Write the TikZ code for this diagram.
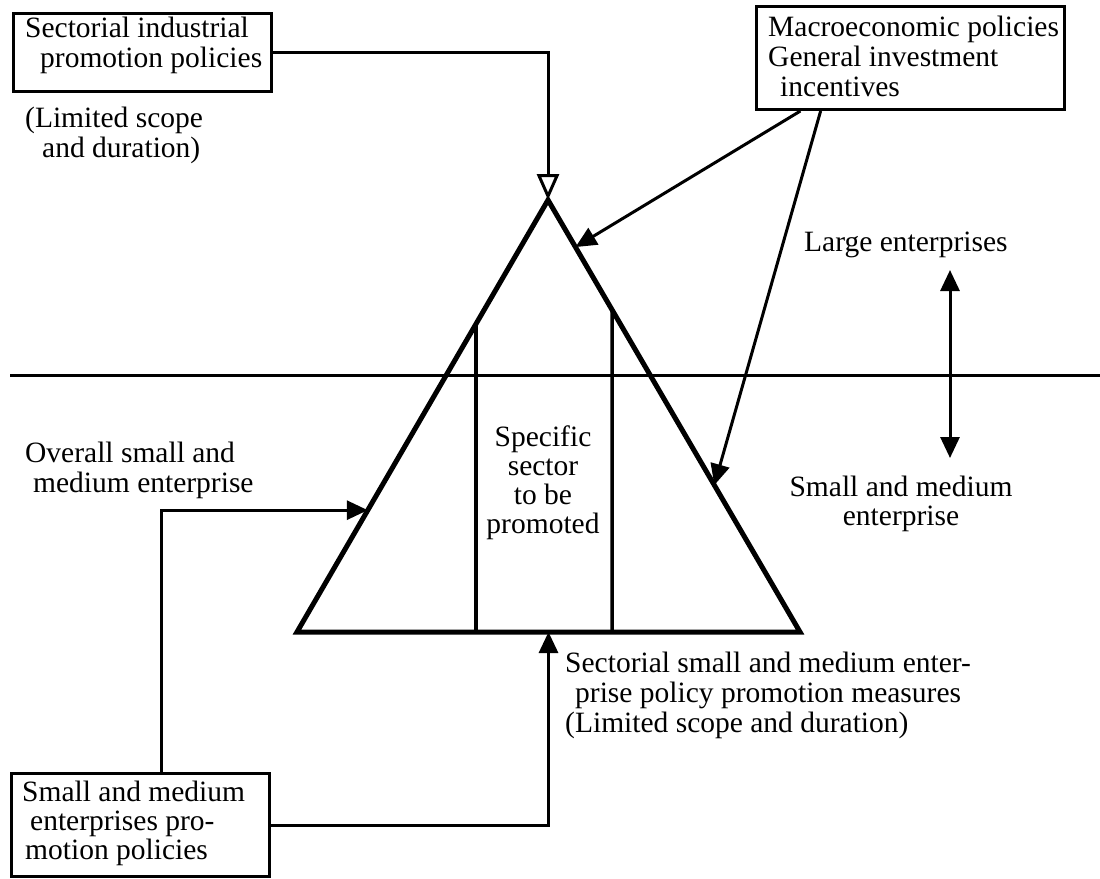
\documentclass[tikz,border=0pt]{standalone}
\usepackage{fontspec}
\setmainfont{Liberation Serif}
\usetikzlibrary{arrows.meta,calc}
\begin{document}
\begin{tikzpicture}[x=1pt,y=-1pt,
  txt/.style={font=\fontsize{29.5}{30}\selectfont, inner sep=0pt, align=left, anchor=north west},
  ctxt/.style={font=\fontsize{29.5}{29}\selectfont, inner sep=0pt, align=center, anchor=north},
  box/.style={draw, line width=3pt, inner sep=0pt, anchor=north west},
  conn/.style={line width=3pt},
  tip/.style={-{Triangle[length=21pt,width=19pt]}},
  opentip/.style={-{Triangle[open,length=26pt,width=22pt]}},
  pyramid/.style={line width=5pt, line join=miter},
  divider/.style={line width=3.5pt},
]
\useasboundingbox (0,0) rectangle (1100,878);

% pyramid
\coordinate (A) at (548,200);
\coordinate (L) at (297,632);
\coordinate (R) at (800,632);
\draw[pyramid] (L) -- (A) -- (R) -- cycle;
\coordinate (Lt) at (intersection of L--A and 476,0--476,700);
\coordinate (Rt) at (intersection of R--A and 612,0--612,700);
\draw[divider] (476,632) -- (Lt);
\draw[divider] (612,632) -- (Rt);

% boundary between large and small/medium enterprises
\coordinate (hl) at (10,375);
\coordinate (hr) at (1100,375);
\draw[conn] (hl) -- (hr);

% boxes
\node[box, minimum width=258, minimum height=78] (sip) at (12,12) {};
\node[txt] (sipt) at (25,17) {Sectorial industrial\\\hspace*{15pt}promotion policies};

\node[box, minimum width=308, minimum height=103] (mac) at (755,5) {};
\node[txt] (mact) at (768,16) {Macroeconomic policies\\General investment\\\hspace*{12pt}incentives};

\node[box, minimum width=258, minimum height=103] (sme) at (10,772) {};
\node[txt, font=\fontsize{29.5}{29}\selectfont] (smet) at (22,781) {Small and medium\\\hspace*{8pt}enterprises pro-\\\hspace*{3pt}motion policies};

% free labels
\node[txt] (lim) at (25,107) {(Limited scope\\\hspace*{17pt}and duration)};
\node[txt] (large) at (804,232) {Large enterprises};
\node[ctxt] (smallr) at (901,476) {Small and medium\\enterprise};
\node[txt] (overall) at (25,442) {Overall small and\\\hspace*{8pt}medium enterprise};
\node[ctxt] (spec) at (543,426) {Specific\\sector\\to be\\promoted};
\node[txt] (sect) at (565,652) {Sectorial small and medium enter-\\\hspace*{10pt}prise policy promotion measures\\(Limited scope and duration)};

% connectors
\draw[conn, opentip] (sip.east) -| (A);
\draw[conn, tip] ($(mac.south west)!0.146!(mac.south east)$) -- ($(A)!0.109!(R)$);
\draw[conn, tip] ($(mac.south west)!0.211!(mac.south east)$) -- ($(A)!0.66!(R)$);
\draw[conn, tip] ($(sme.north west)!0.58!(sme.north east)$) |- ($(A)!0.718!(L)$);
\draw[conn, tip] (sme.east) -| ($(L)!0.5!(R)$);

\coordinate (dt) at (950,270);
\coordinate (db) at (950,458);
\draw[conn, {Triangle[length=21pt,width=19pt]}-{Triangle[length=21pt,width=19pt]}] (dt) -- (db);
\end{tikzpicture}
\end{document}
